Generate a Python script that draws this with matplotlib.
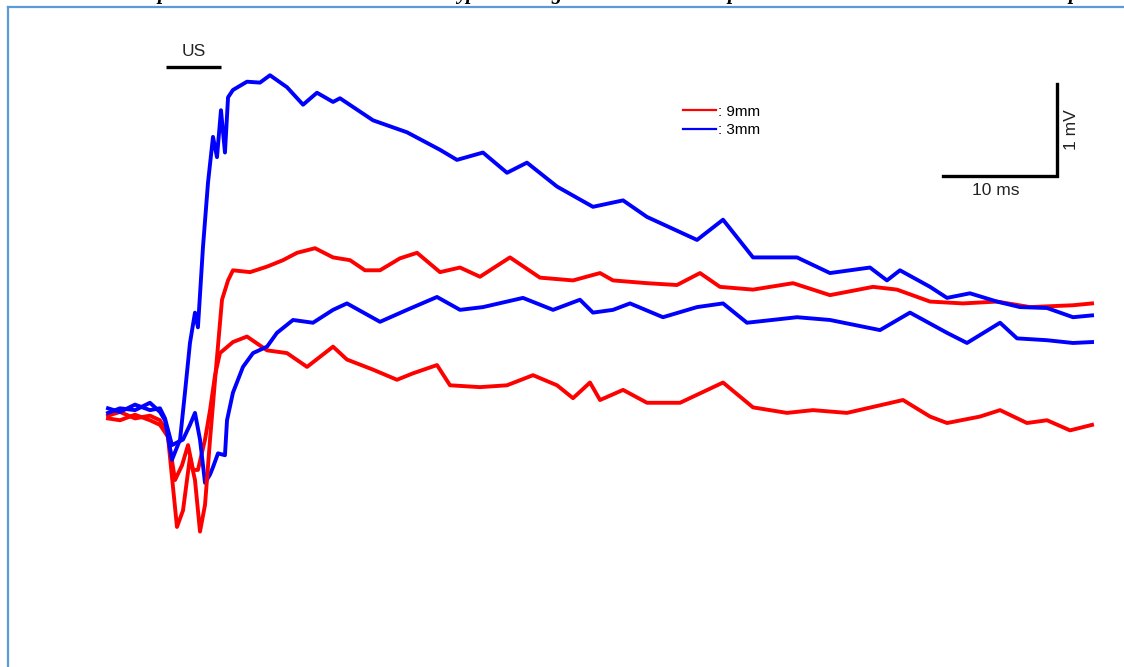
import matplotlib
matplotlib.use("Agg")
import matplotlib.pyplot as plt
from matplotlib.lines import Line2D

# time in ms (0 = start of recording), potential in mV (0 = baseline)
t_red_a = [0.00, 1.05, 2.37, 3.68, 4.56, 5.26, 6.05, 6.58, 7.19, 7.63, 8.07, 8.51, 8.95, 9.39,
           10.00, 10.53, 10.96, 12.46, 13.95, 15.35, 16.58, 18.16, 19.74, 21.23, 22.54, 23.86,
           25.61, 27.11, 29.12, 30.88, 32.63, 35.26, 37.89, 40.79, 43.16, 44.30, 47.28, 49.91,
           51.93, 53.68, 56.58, 60.09, 63.33, 67.11, 69.21, 72.11, 75.00, 77.98, 80.88, 84.65, 86.32]
v_red_a = [-0.07, -0.09, -0.03, -0.09, -0.14, -0.27, -1.25, -1.07, -0.49, -0.74, -1.30, -1.01, -0.30, 0.35,
           1.22, 1.43, 1.54, 1.52, 1.58, 1.65, 1.73, 1.78, 1.68, 1.65, 1.54, 1.54,
           1.67, 1.73, 1.52, 1.57, 1.47, 1.68, 1.46, 1.43, 1.51, 1.43, 1.40, 1.38,
           1.51, 1.36, 1.33, 1.40, 1.27, 1.36, 1.33, 1.20, 1.18, 1.20, 1.14, 1.16, 1.18]

t_red_b = [0.00, 1.05, 2.37, 3.68, 4.56, 5.26, 5.88, 6.49, 7.02, 7.46, 7.89, 8.51, 8.95, 9.39, 9.82,
           10.96, 12.19, 13.95, 15.70, 17.46, 19.74, 20.96, 23.25, 25.35, 26.75, 28.86, 30.00,
           32.63, 35.00, 37.28, 39.39, 40.79, 42.28, 43.16, 45.18, 47.28, 50.18, 53.95, 56.58,
           59.56, 61.84, 64.82, 69.74, 72.11, 73.60, 76.49, 78.25, 80.61, 82.37, 84.39, 86.32]
v_red_b = [-0.04, 0.00, -0.07, -0.04, -0.09, -0.25, -0.74, -0.58, -0.36, -0.63, -0.63, -0.30, 0.02, 0.40, 0.64,
           0.76, 0.82, 0.67, 0.64, 0.49, 0.71, 0.57, 0.46, 0.35, 0.42, 0.51, 0.29,
           0.27, 0.29, 0.40, 0.29, 0.15, 0.32, 0.13, 0.24, 0.10, 0.10, 0.32, 0.05,
           -0.01, 0.02, -0.01, 0.13, -0.05, -0.12, -0.05, 0.02, -0.12, -0.09, -0.20, -0.14]

t_blue_a = [0.00, 1.05, 2.37, 3.68, 4.56, 5.00, 5.61, 6.32, 6.75, 7.19, 7.63, 7.89, 8.33, 8.77,
            9.21, 9.56, 9.91, 10.26, 10.53, 10.96, 12.19, 13.33, 14.21, 15.70, 17.11, 18.33,
            19.74, 20.35, 23.25, 26.23, 29.12, 30.61, 32.89, 35.00, 36.75, 39.39, 42.54, 45.18,
            47.28, 51.67, 53.95, 56.58, 60.44, 63.33, 66.84, 68.33, 69.47, 72.11, 73.60, 75.61,
            77.98, 80.00, 82.37, 84.65, 86.32]
v_blue_a = [-0.01, 0.04, 0.02, 0.10, 0.00, -0.09, -0.52, -0.30, 0.21, 0.75, 1.08, 0.92, 1.79, 2.49,
            2.99, 2.77, 3.28, 2.82, 3.42, 3.50, 3.59, 3.58, 3.66, 3.53, 3.34, 3.47,
            3.37, 3.41, 3.17, 3.04, 2.85, 2.74, 2.82, 2.60, 2.71, 2.45, 2.23, 2.30,
            2.12, 1.87, 2.09, 1.68, 1.68, 1.51, 1.57, 1.43, 1.54, 1.36, 1.24, 1.29,
            1.20, 1.14, 1.13, 1.03, 1.05]

t_blue_b = [0.00, 1.05, 2.37, 3.68, 4.56, 5.00, 5.61, 6.58, 7.19, 7.63, 8.07, 8.51, 8.95, 9.21,
            9.65, 10.26, 10.44, 10.96, 11.84, 12.72, 13.95, 14.82, 16.23, 17.98, 19.74, 20.96,
            23.86, 26.23, 28.86, 30.88, 32.89, 36.40, 39.04, 41.40, 42.54, 44.30, 45.79, 48.68,
            51.67, 53.95, 56.05, 60.44, 63.33, 67.72, 70.35, 73.60, 75.35, 78.25, 79.74, 82.37,
            84.65, 86.32]
v_blue_b = [0.04, 0.00, 0.08, 0.02, 0.04, -0.07, -0.36, -0.30, -0.14, -0.01, -0.30, -0.77, -0.68, -0.60,
            -0.45, -0.47, -0.09, 0.21, 0.49, 0.64, 0.71, 0.86, 1.00, 0.97, 1.11, 1.18,
            0.98, 1.11, 1.25, 1.11, 1.14, 1.24, 1.11, 1.22, 1.08, 1.11, 1.18, 1.03,
            1.14, 1.18, 0.97, 1.03, 1.00, 0.89, 1.08, 0.86, 0.75, 0.97, 0.80, 0.78,
            0.75, 0.76]

US_START, US_END = 5.09, 9.91      # ms, stimulus bar
SCALE_T0, SCALE_V0 = 73.25, 2.565   # corner of the 10 ms / 1 mV scale bar

RED = "#ff0000"
BLUE = "#0000ff"
TXT = "#222222"
FONT = "Liberation Sans"

fig = plt.figure(figsize=(11.24, 6.67), dpi=100)
ax = fig.add_axes([0, 0, 1, 1])
ax.set_xlim(-9.474, 89.123)
ax.set_ylim(-2.772, 4.478)
ax.axis("off")

lw = 2.8
ax.plot(t_red_b, v_red_b, color=RED, lw=lw)
ax.plot(t_blue_b, v_blue_b, color=BLUE, lw=lw)
ax.plot(t_red_a, v_red_a, color=RED, lw=lw, label=": 9mm")
ax.plot(t_blue_a, v_blue_a, color=BLUE, lw=lw, label=": 3mm")

# stimulus marker
ax.plot([US_START, US_END], [3.75, 3.75], color="black", lw=2.4, solid_capstyle="butt")
ax.text((US_START + US_END) / 2, 3.92, "US", ha="center", va="center",
        fontsize=12.5, family=FONT, color=TXT)

# scale bar
ax.plot([SCALE_T0, SCALE_T0 + 10, SCALE_T0 + 10], [SCALE_V0, SCALE_V0, SCALE_V0 + 1],
        color="black", lw=2.4, solid_joinstyle="miter")
ax.text(SCALE_T0 + 4.6, SCALE_V0 - 0.16, "10 ms", ha="center", va="center",
        fontsize=12.5, family=FONT, color=TXT)
ax.text(SCALE_T0 + 11.3, SCALE_V0 + 0.5, "1 mV", ha="center", va="center", rotation=90,
        fontsize=12.5, family=FONT, color=TXT)

leg = ax.legend(loc="upper left", bbox_to_anchor=(0.598, 0.859), frameon=False,
                handlelength=2.2, handletextpad=0.1, labelspacing=0.3, borderpad=0.2,
                prop={"family": FONT, "size": 11})
for h in leg.legend_handles:
    h.set_linewidth(1.6)

# page frame and the cut-off caption above it
frame = "#5b9bd5"
fig.add_artist(Line2D([8 / 1124, 1], [1 - 6.5 / 667, 1 - 6.5 / 667], color=frame, lw=1.6))
fig.add_artist(Line2D([8 / 1124, 8 / 1124], [0, 1 - 6.5 / 667], color=frame, lw=1.6))
for x, s in [(163, "p"), (467, "yp"), (557, "g"), (733, "p"), (1074, "p")]:
    fig.text(x / 1124, 1 + 0.8 / 667, s, ha="center", va="baseline", fontsize=15,
             family="Liberation Serif", style="italic", weight="bold")

fig.savefig("out.png", dpi=100)
